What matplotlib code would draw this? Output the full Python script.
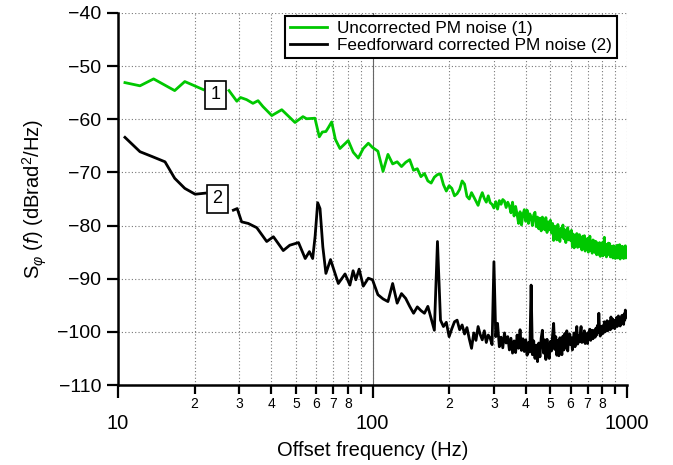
import numpy as np
import matplotlib
matplotlib.use('Agg')
import matplotlib.pyplot as plt
from matplotlib.ticker import FixedLocator, FixedFormatter

plt.rcParams['font.family'] = ['Liberation Sans', 'DejaVu Sans']
plt.rcParams['mathtext.fontset'] = 'custom'
plt.rcParams['mathtext.rm'] = 'Liberation Sans'
plt.rcParams['mathtext.it'] = 'Liberation Sans:italic'

# Uncorrected PM noise (1): low-frequency part, before and after label "1"
green_f_a = [10.65, 12.2, 13.8, 16.7, 18.3, 21.6]
green_db_a = [-53.1, -53.7, -52.4, -54.6, -52.9, -54.4]
green_f_b = [27.3, 29.3, 30.3, 32.0, 33.9, 35.5, 37.1, 40.2, 44.0, 49.6, 53.3, 55.1,
             59.4, 61.8, 63.5, 65.6, 67.0, 69.1, 71.5, 74.5, 80.3, 84.0, 87.9, 92.0, 96.3]
green_db_b = [-54.6, -56.6, -55.9, -56.3, -57.0, -56.5, -57.6, -59.3, -58.2, -60.6, -59.5, -59.9,
              -59.8, -63.3, -62.4, -62.3, -61.6, -60.5, -63.8, -65.5, -64.0, -66.2, -67.3, -65.5, -64.5]
# dense part, 100 Hz to 1000 Hz in 5 Hz steps
green_db_c = [
    -65.3, -66.0, -69.8, -66.6, -68.4, -68.0, -68.9, -68.1, -67.6, -69.6,
    -69.3, -70.8, -70.2, -71.6, -72.0, -70.9, -70.4, -70.3, -72.3, -73.5,
    -72.5, -73.0, -74.4, -74.0, -73.2, -71.6, -72.2, -74.5, -75.0, -73.8,
    -74.6, -75.4, -76.2, -74.8, -73.8, -74.9, -75.6, -74.4, -75.7, -76.0,
    -76.7, -75.5, -76.9, -75.3, -76.0, -75.1, -75.4, -76.6, -75.6, -76.3,
    -77.6, -75.6, -78.2, -76.4, -77.9, -79.6, -77.4, -79.9, -77.9, -77.0,
    -79.2, -77.1, -79.6, -77.8, -78.4, -80.0, -78.0, -77.5, -80.2, -78.4,
    -80.6, -78.6, -81.0, -78.4, -80.1, -80.8, -78.5, -81.3, -79.3, -80.8,
    -79.0, -81.4, -79.6, -82.8, -80.1, -81.7, -82.7, -79.8, -82.1, -83.0,
    -80.5, -82.0, -79.9, -82.5, -80.8, -83.2, -81.1, -80.4, -82.7, -81.2,
    -82.8, -80.9, -84.0, -81.6, -84.2, -82.3, -83.8, -81.5, -84.1, -82.5,
    -81.7, -84.0, -82.2, -84.6, -82.0, -84.3, -81.9, -84.8, -82.6, -84.2,
    -82.4, -85.0, -82.9, -82.0, -84.7, -83.0, -85.2, -82.7, -84.6, -82.9,
    -85.1, -83.0, -85.5, -83.3, -85.2, -85.4, -83.2, -85.8, -83.6, -85.1,
    -83.2, -85.7, -83.6, -82.2, -85.4, -83.7, -85.9, -83.5, -85.5, -83.3,
    -85.2, -83.4, -85.9, -83.9, -85.6, -84.0, -86.1, -83.8, -85.7, -84.0,
    -86.2, -84.1, -85.8, -83.7, -86.1, -84.3, -85.7, -83.6, -86.3, -84.2,
    -85.5, -83.9, -86.0, -84.0, -86.2, -84.4, -85.9, -83.8, -86.1, -84.4,
    -84.9]

# Feedforward corrected PM noise (2)
black_f_a = [10.65, 12.2, 13.6, 15.3, 16.7, 18.3, 20.1, 22.0]
black_db_a = [-63.4, -66.1, -67.0, -68.0, -71.1, -73.0, -74.1, -73.9]
black_f_b = [28.4, 29.4, 30.6, 32.5, 35.1, 38.4, 40.8, 44.6, 47.3, 51.2, 54.4, 56.5,
             58.2, 59.5, 60.9, 62.2, 63.8, 65.6, 68.4, 73.4, 78.0, 81.5, 83.9, 86.0,
             88.6, 92.0, 96.3]
black_db_b = [-77.1, -76.8, -79.3, -79.6, -80.4, -83.0, -82.1, -84.7, -83.7, -83.2, -86.2, -84.9,
              -86.2, -82.0, -75.7, -76.8, -84.0, -89.0, -86.4, -90.9, -89.1, -91.2, -88.5, -90.2,
              -88.2, -91.4, -89.9]
black_db_c = [
    -90.2, -93.0, -93.8, -94.3, -90.9, -94.6, -92.8, -93.7, -95.2, -96.5,
    -95.3, -96.0, -96.5, -95.2, -97.5, -99.7, -83.0, -97.8, -99.0, -98.2,
    -100.9, -99.4, -98.1, -97.8, -99.6, -98.7, -100.4, -99.2, -101.3, -103.1,
    -100.2, -101.6, -99.0, -100.5, -101.5, -99.8, -102.0, -100.6, -101.2, -102.4,
    -86.8, -100.9, -98.4, -102.8, -101.0, -103.0, -100.2, -102.1, -100.9, -103.4,
    -101.2, -104.0, -101.7, -103.9, -100.6, -103.1, -99.6, -103.5, -101.3, -103.7,
    -101.5, -104.4, -102.0, -103.8, -91.2, -104.3, -101.7, -105.0, -102.5, -105.6,
    -102.1, -104.7, -101.2, -99.7, -104.0, -101.5, -105.2, -101.4, -104.1, -105.0,
    -101.8, -103.6, -100.6, -98.4, -103.3, -100.9, -104.4, -101.6, -104.5, -101.1,
    -103.2, -104.3, -100.8, -103.4, -100.3, -103.0, -99.8, -103.6, -101.1, -100.4,
    -102.4, -101.1, -103.4, -101.5, -100.2, -102.8, -101.0, -99.0, -102.3, -100.7,
    -101.9, -100.4, -99.0, -102.0, -100.6, -101.8, -99.8, -102.2, -100.3, -101.4,
    -102.2, -100.1, -101.2, -99.5, -101.6, -100.4, -99.7, -101.3, -100.0, -99.7,
    -101.0, -99.3, -100.6, -98.8, -100.1, -96.5, -99.6, -100.8, -99.0, -100.3,
    -98.9, -100.3, -99.4, -98.1, -100.0, -98.6, -99.5, -97.9, -99.8, -98.5,
    -99.2, -98.0, -99.6, -97.2, -98.8, -99.3, -97.6, -98.9, -98.2, -99.4,
    -97.8, -98.7, -97.3, -99.0, -98.1, -97.0, -98.6, -97.7, -98.9, -97.5,
    -98.3, -96.9, -98.0, -97.4, -98.6, -96.6, -97.8, -95.9, -97.3, -96.8,
    -97.0]

f_dense_start, f_dense_stop = 100, 1000
major_ticks = [10, 100, 1000]
minor_ticks = [20, 30, 40, 50, 60, 70, 80, 90, 200, 300, 400, 500, 600, 700, 800, 900]
minor_labels = ['2', '3', '4', '5', '6', '7', '8', '', '2', '3', '4', '5', '6', '7', '8', '']
y_ticks = [-110, -100, -90, -80, -70, -60, -50, -40]

green = '#00C800'

fig = plt.figure(figsize=(6.73, 4.65), dpi=100)
ax = fig.add_axes([118/673, 80/465, 509/673, 372/465])

gf_c = np.linspace(f_dense_start, f_dense_stop, len(green_db_c))
bf_c = np.linspace(f_dense_start, f_dense_stop, len(black_db_c))

ax.plot(green_f_a, green_db_a, color=green, lw=2.0, label='Uncorrected PM noise (1)')
ax.plot(np.concatenate([green_f_b, gf_c]), np.concatenate([green_db_b, green_db_c]), color=green, lw=2.0)
ax.plot(black_f_a, black_db_a, color='black', lw=2.0, label='Feedforward corrected PM noise (2)')
ax.plot(np.concatenate([black_f_b, bf_c]), np.concatenate([black_db_b, black_db_c]), color='black', lw=2.0)

ax.set_xscale('log')
ax.set_xlim(10, 1000)
ax.set_ylim(-110, -40)

ax.xaxis.set_major_locator(FixedLocator(major_ticks))
ax.xaxis.set_major_formatter(FixedFormatter(['10', '100', '1000']))
ax.xaxis.set_minor_locator(FixedLocator(minor_ticks))
ax.xaxis.set_minor_formatter(FixedFormatter(minor_labels))
ax.set_yticks(y_ticks)

ax.tick_params(axis='x', which='major', direction='out', length=9, width=1.6, labelsize=14.5, pad=12)
ax.tick_params(axis='x', which='minor', direction='out', length=6.5, width=1.6, labelsize=10, pad=2)
ax.tick_params(axis='y', which='major', direction='out', length=8, width=1.6, labelsize=14, pad=4)

for s in ['top', 'right']:
    ax.spines[s].set_visible(False)
for s in ['left', 'bottom']:
    ax.spines[s].set_linewidth(1.8)

dot = (0, (1, 2))
ax.grid(which='major', axis='y', ls=dot, color='#777777', lw=0.8)
ax.grid(which='both', axis='x', ls=dot, color='#777777', lw=0.8)
ax.axvline(100, color='#666666', lw=0.8, zorder=1.5)
ax.set_axisbelow(True)

ax.set_xlabel('Offset frequency (Hz)', fontsize=14.5)
ax.set_ylabel(r'S$_{\varphi}$ ($\mathit{f}$) (dBrad$^2$/Hz)', fontsize=14.5)
ax.xaxis.set_label_coords(0.5, -0.15)
ax.yaxis.set_label_coords(-0.136, 0.5)

box = dict(boxstyle='square,pad=0.3', fc='white', ec='black', lw=1.2)
ax.text(24.1, -55.4, '1', fontsize=13, ha='center', va='center', bbox=box)
ax.text(24.6, -75.0, '2', fontsize=13, ha='center', va='center', bbox=box)

leg = ax.legend(loc='upper right', bbox_to_anchor=(0.98, 0.993), borderaxespad=0,
                fontsize=12.3, frameon=True, fancybox=False, handlelength=2.2,
                handletextpad=0.55, labelspacing=0.15, borderpad=0.3)
leg.get_frame().set_edgecolor('black')
leg.get_frame().set_linewidth(1.5)
leg.get_frame().set_alpha(1)

fig.savefig('out.png', dpi=100)
